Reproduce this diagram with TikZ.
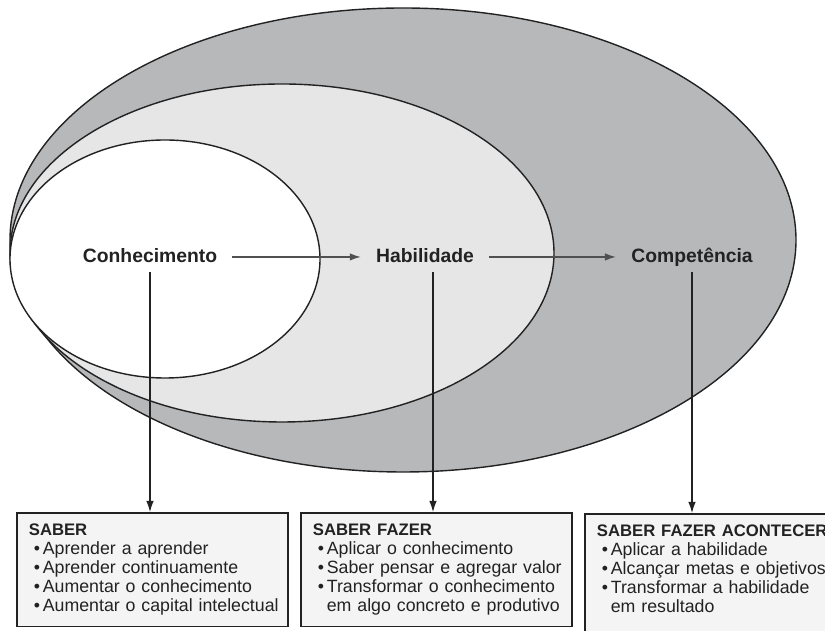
\documentclass[tikz,border=0pt]{standalone}
\usepackage{fontspec}
\setmainfont{Liberation Sans}
\usetikzlibrary{arrows.meta}
\definecolor{outergray}{RGB}{183,184,186}
\definecolor{midgray}{RGB}{230,230,230}
\definecolor{boxfill}{RGB}{244,244,244}
\definecolor{inkgray}{RGB}{34,34,34}
\definecolor{arrowgray}{RGB}{80,80,80}
\newcommand{\head}[1]{\hspace*{0.16cm}{\fontsize{9.5}{10.8}\selectfont\textbf{#1}}}
\newcommand{\itm}{\hspace*{0.26cm}\makebox[0.18cm][l]{\textbullet}}
\newcommand{\cont}{\hspace*{0.44cm}}
\begin{document}
\begin{tikzpicture}[x=0.02cm,y=0.02cm,>={Latex[length=0.22cm,width=0.15cm]},
  lbl/.style={font=\fontsize{11}{13}\selectfont\bfseries, text=inkgray, anchor=base,
    inner xsep=0.3cm, text height=1.6ex, text depth=0.3ex},
  infobox/.style={draw=inkgray, line width=1pt, fill=boxfill, anchor=north west,
    inner xsep=0.08cm, inner ysep=0.224cm, align=left, text=inkgray,
    font=\fontsize{10.1}{10.8}\selectfont}]
  \useasboundingbox (0,0) rectangle (825,631);
  % nested ellipses
  \filldraw[fill=outergray, draw=inkgray, line width=0.8pt] (403,391) ellipse [x radius=393, y radius=232];
  \filldraw[fill=midgray, draw=inkgray, line width=0.8pt] (282,378) ellipse [x radius=272, y radius=169];
  \filldraw[fill=white, draw=inkgray, line width=0.8pt] (165,372) ellipse [x radius=155, y radius=119];
  % labels
  \node[lbl] (conh) at (150,368) {Conhecimento};
  \node[lbl] (hab) at (425,368) {Habilidade};
  \node[lbl] (comp) at (692,368) {Competência};
  \draw[->, arrowgray, line width=0.8pt] (conh) -- (hab);
  \draw[->, arrowgray, line width=0.8pt] (hab) -- (comp);
  % boxes
  \node[infobox, text width=5.26cm] (saber) at (16,119) {\head{SABER}\\
    \itm Aprender a aprender\\
    \itm Aprender continuamente\\
    \itm Aumentar o conhecimento\\
    \itm Aumentar o capital intelectual};
  \node[infobox, text width=5.26cm] (fazer) at (300,119) {\head{SABER FAZER}\\
    \itm Aplicar o conhecimento\\
    \itm Saber pensar e agregar valor\\
    \itm Transformar o conhecimento\\
    \cont em algo concreto e produtivo};
  \node[infobox, text width=6cm] (acontecer) at (584,118) {\head{SABER FAZER ACONTECER}\\
    \itm Aplicar a habilidade\\
    \itm Alcançar metas e objetivos\\
    \itm Transformar a habilidade\\
    \cont em resultado\rule[-14pt]{0pt}{0pt}};
  % drops
  \coordinate (habdrop) at ([xshift=0.16cm]hab.south);
  \draw[->, inkgray, line width=0.6pt] (conh.south) -- (conh.south |- saber.north);
  \draw[->, inkgray, line width=0.6pt] (habdrop) -- (habdrop |- fazer.north);
  \draw[->, inkgray, line width=0.6pt] (comp.south) -- (comp.south |- acontecer.north);
\end{tikzpicture}
\end{document}
